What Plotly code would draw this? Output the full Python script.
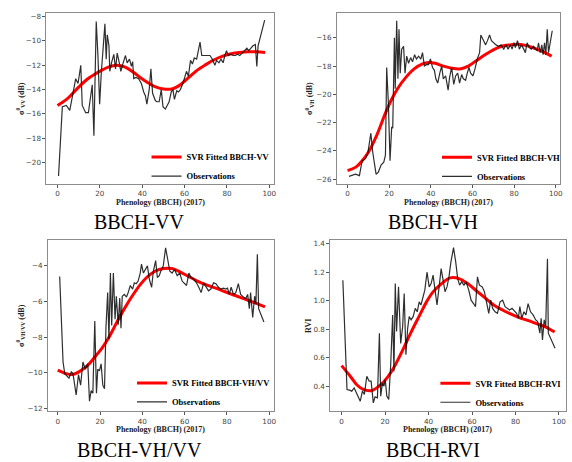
import plotly.graph_objects as go

# ---------------- data ----------------
bbch_fit = [0, 4, 7, 10, 14, 18, 21, 24, 28, 32, 36, 39, 42, 46, 50, 54, 58, 62, 66, 70, 74, 78, 82, 86, 90, 94, 98]

vv_fit = [-15.3, -14.85, -14.35, -13.8, -13.15, -12.7, -12.4, -12.15, -12.0, -12.15, -12.6, -13.0, -13.35, -13.75, -13.95, -13.95, -13.6, -13.0, -12.4, -11.95, -11.55, -11.25, -11.05, -10.95, -10.9, -10.9, -10.95]
vh_fit = [-25.4, -25.15, -24.7, -24.1, -22.9, -21.4, -20.4, -19.6, -18.8, -18.2, -17.85, -17.75, -17.8, -18.0, -18.15, -18.2, -18.0, -17.6, -17.2, -16.85, -16.6, -16.5, -16.45, -16.55, -16.75, -17.0, -17.3]
ratio_fit = [-9.85, -10.05, -10.1, -9.95, -9.6, -9.05, -8.6, -8.05, -7.15, -6.3, -5.55, -5.05, -4.65, -4.3, -4.15, -4.15, -4.35, -4.6, -4.85, -5.05, -5.22, -5.4, -5.58, -5.75, -5.93, -6.1, -6.3]
rvi_fit = [0.544, 0.47, 0.41, 0.377, 0.37, 0.41, 0.46, 0.53, 0.65, 0.78, 0.9, 0.99, 1.06, 1.12, 1.16, 1.155, 1.12, 1.07, 1.02, 0.97, 0.935, 0.905, 0.88, 0.86, 0.837, 0.815, 0.78]

vv_x = [0.5, 2.3, 4.2, 5.8, 7.0, 8.6, 9.7, 11.0, 11.7, 13.3, 14.6, 15.3, 16.4, 17.2, 18.3, 19.1, 19.9, 20.7, 21.4, 22.4, 23.0, 23.5, 24.3, 24.7, 25.5, 26.6, 27.4, 28.2, 29.3, 29.9, 31.0, 32.1, 32.9, 34.0, 34.9, 35.5, 36.0, 37.1, 38.3, 39.6, 40.7, 41.5, 42.2, 43.3, 44.1, 44.9, 46.2, 46.9, 48.0, 49.0, 49.8, 50.9, 51.8, 52.7, 53.7, 54.5, 55.2, 56.3, 57.1, 58.0, 59.2, 59.9, 60.9, 61.8, 62.8, 63.7, 64.6, 65.7, 66.5, 67.3, 68.1, 69.0, 70.4, 72.0, 73.1, 74.3, 75.1, 76.2, 77.2, 78.2, 79.0, 79.8, 80.6, 81.7, 82.9, 84.0, 85.0, 86.0, 87.2, 88.4, 89.4, 90.3, 91.2, 92.3, 93.4, 94.1, 94.7, 95.9, 97.8]
vv_obs = [-21.1, -15.4, -15.3, -15.7, -14.6, -13.1, -13.5, -12.0, -15.3, -15.9, -15.9, -14.9, -13.6, -17.8, -8.4, -11.2, -15.2, -12.6, -11.2, -8.6, -11.5, -9.5, -10.4, -12.5, -11.8, -11.1, -12.3, -11.0, -11.9, -12.5, -11.8, -11.2, -11.8, -11.5, -12.1, -11.7, -13.1, -13.0, -13.1, -13.5, -14.2, -14.5, -15.2, -14.0, -12.3, -14.3, -14.9, -15.0, -15.0, -14.0, -15.4, -15.6, -15.3, -15.0, -14.2, -14.0, -14.8, -14.1, -14.2, -14.0, -13.5, -13.0, -12.5, -12.9, -11.6, -11.9, -11.4, -11.5, -10.7, -10.1, -11.2, -11.2, -11.2, -11.2, -11.5, -12.0, -11.6, -11.8, -11.5, -11.8, -11.2, -10.8, -11.2, -11.1, -11.2, -11.2, -11.1, -11.2, -11.0, -10.8, -10.6, -10.8, -10.6, -10.4, -10.3, -12.1, -10.4, -9.5, -8.3]

vh_x = [0.7, 2.2, 3.8, 5.7, 7.0, 8.6, 9.7, 11.2, 12.1, 13.7, 14.8, 16.1, 17.4, 18.2, 18.8, 19.6, 20.4, 21.2, 21.7, 22.5, 22.9, 23.6, 24.2, 24.7, 25.3, 26.0, 26.9, 27.6, 28.4, 29.3, 30.3, 31.2, 32.2, 33.1, 34.1, 35.2, 36.0, 36.9, 37.9, 38.9, 39.8, 40.8, 41.7, 42.4, 43.3, 44.3, 45.2, 46.0, 47.1, 48.3, 49.0, 50.0, 51.0, 51.9, 52.9, 53.8, 54.8, 55.6, 56.7, 57.5, 58.3, 59.1, 60.2, 61.2, 62.3, 63.4, 64.0, 65.0, 66.3, 67.2, 68.2, 69.1, 70.2, 71.3, 72.6, 73.7, 75.0, 76.1, 77.1, 78.2, 79.0, 79.9, 80.6, 81.6, 82.5, 83.5, 84.6, 85.4, 86.2, 87.3, 88.2, 89.3, 90.1, 91.1, 91.7, 92.5, 93.3, 93.9, 94.6, 95.2, 95.9, 96.5, 98.3]
vh_obs = [-25.8, -25.7, -25.65, -25.75, -24.7, -24.55, -24.2, -22.75, -24.1, -25.65, -25.5, -25.0, -24.8, -24.3, -18.1, -20.6, -24.7, -22.3, -22.4, -16.0, -19.6, -14.8, -18.9, -15.4, -18.5, -16.8, -16.6, -18.5, -17.3, -17.8, -17.4, -17.7, -17.2, -17.5, -17.3, -17.5, -17.05, -18.0, -17.9, -17.9, -17.5, -18.1, -18.3, -18.9, -19.2, -18.5, -18.0, -18.9, -18.7, -19.7, -18.8, -18.1, -19.3, -18.7, -18.5, -19.2, -18.6, -18.9, -19.0, -18.5, -18.1, -18.5, -18.7, -18.2, -17.5, -17.05, -15.8, -16.1, -16.5, -16.2, -15.8, -16.2, -16.35, -16.5, -16.6, -16.5, -16.8, -16.5, -16.8, -16.5, -16.8, -16.35, -16.7, -16.2, -16.8, -16.5, -16.8, -17.05, -16.35, -16.7, -16.8, -16.6, -16.8, -16.9, -16.35, -17.05, -16.5, -17.2, -16.35, -17.2, -15.4, -17.05, -15.5]

ratio_x = [0.9, 2.5, 3.3, 4.4, 5.3, 6.4, 7.2, 8.7, 9.8, 10.8, 11.9, 13.0, 14.2, 15.0, 15.8, 16.6, 17.5, 18.3, 18.9, 19.7, 20.5, 21.3, 22.1, 22.8, 23.6, 24.2, 24.9, 25.5, 26.3, 27.1, 27.7, 28.6, 29.3, 29.9, 30.5, 31.5, 32.5, 33.3, 34.3, 35.4, 36.2, 37.1, 38.0, 39.0, 39.6, 40.5, 41.3, 42.4, 43.3, 44.4, 45.2, 46.3, 47.1, 48.0, 49.0, 49.9, 51.0, 52.1, 53.0, 54.1, 55.2, 56.5, 57.7, 58.8, 59.9, 60.9, 62.0, 63.0, 64.3, 65.6, 66.7, 67.8, 69.0, 70.1, 71.3, 72.4, 73.7, 74.8, 76.0, 77.1, 78.4, 79.5, 80.3, 81.1, 82.0, 83.1, 84.2, 85.4, 86.5, 87.8, 88.9, 89.8, 90.6, 91.2, 92.2, 93.1, 93.7, 94.4, 95.0, 97.5]
ratio_obs = [-4.6, -9.4, -10.05, -10.2, -10.3, -9.95, -10.05, -11.25, -10.1, -10.7, -9.4, -9.8, -9.5, -11.6, -11.0, -11.15, -7.1, -11.15, -9.8, -9.9, -9.5, -10.7, -10.9, -7.45, -5.5, -8.1, -4.4, -7.35, -4.4, -7.0, -5.7, -7.3, -5.8, -7.5, -5.7, -5.6, -5.75, -5.5, -5.1, -5.3, -4.95, -5.0, -4.85, -4.4, -3.9, -4.4, -4.2, -4.0, -4.75, -5.2, -4.3, -3.7, -4.65, -4.55, -4.2, -4.0, -2.98, -3.8, -4.3, -4.4, -4.2, -4.55, -4.4, -4.85, -5.0, -5.1, -4.4, -4.65, -4.75, -4.95, -5.2, -5.5, -4.95, -5.2, -5.4, -5.3, -4.95, -5.0, -5.2, -5.3, -5.25, -5.3, -5.25, -5.6, -5.2, -5.6, -5.5, -5.0, -5.6, -5.75, -5.85, -5.6, -6.4, -5.5, -6.9, -5.7, -6.15, -3.35, -6.4, -7.15]

rvi_x = [0.6, 2.5, 3.7, 4.7, 5.8, 7.0, 8.6, 9.6, 10.5, 11.6, 12.7, 13.6, 14.6, 15.4, 16.5, 17.4, 18.0, 18.8, 19.5, 20.1, 20.8, 21.7, 22.6, 23.5, 24.1, 24.7, 25.3, 26.2, 27.2, 28.1, 28.8, 29.6, 30.4, 31.1, 32.0, 32.9, 33.9, 34.8, 35.7, 36.5, 37.2, 38.3, 39.3, 40.3, 41.2, 42.1, 43.0, 43.9, 44.8, 45.8, 46.7, 47.6, 48.5, 49.4, 50.3, 51.5, 52.5, 53.4, 54.3, 55.2, 56.3, 57.3, 58.5, 59.6, 60.7, 61.6, 62.5, 63.4, 64.7, 65.7, 66.8, 67.7, 68.6, 69.5, 70.6, 71.7, 72.9, 74.1, 75.2, 76.2, 77.3, 78.4, 79.6, 80.5, 81.3, 82.0, 82.9, 83.9, 84.8, 85.8, 86.9, 88.1, 89.3, 90.2, 91.2, 91.8, 92.4, 93.2, 93.9, 94.7, 95.1, 98.2]
rvi_obs = [1.144, 0.377, 0.372, 0.365, 0.388, 0.353, 0.295, 0.365, 0.342, 0.47, 0.435, 0.435, 0.283, 0.325, 0.318, 0.772, 0.33, 0.42, 0.40, 0.446, 0.33, 0.307, 0.55, 0.90, 0.504, 1.12, 0.784, 1.097, 0.70, 0.818, 1.05, 0.62, 0.806, 0.888, 0.865, 0.888, 0.946, 0.922, 0.992, 0.97, 1.004, 1.074, 1.20, 1.097, 1.12, 1.18, 1.074, 0.97, 1.086, 1.225, 1.144, 1.063, 1.097, 1.167, 1.272, 1.372, 1.272, 1.155, 1.109, 1.132, 1.109, 1.132, 1.074, 1.004, 0.98, 0.958, 1.167, 1.109, 1.097, 1.063, 0.98, 0.911, 1.004, 0.946, 0.922, 0.911, 0.992, 1.004, 0.958, 0.946, 0.934, 0.946, 0.922, 0.911, 0.876, 0.958, 0.876, 0.922, 0.90, 0.98, 0.922, 0.90, 0.865, 0.853, 0.772, 0.876, 0.725, 0.865, 0.818, 1.295, 0.772, 0.667]

fit_names = ["SVR Fitted BBCH-VV", "SVR Fitted BBCH-VH", "SVR Fitted BBCH-VH/VV", "SVR Fitted BBCH-RVI"]
obs_name = "Observations"
captions = ["BBCH-VV", "BBCH-VH", "BBCH-VH/VV", "BBCH-RVI"]
y_titles = ["σ<sup>0</sup><sub>VV</sub> (dB)", "σ<sup>0</sup><sub>VH</sub> (dB)",
            "σ<sup>0</sup><sub>VH/VV</sub> (dB)", "RVI"]
x_title = "Phenology (BBCH) (2017)"
x_ticks = [0, 20, 40, 60, 80, 100]
y_ticks = [[-20, -18, -16, -14, -12, -10, -8],
           [-26, -24, -22, -20, -18, -16],
           [-12, -10, -8, -6, -4],
           [0.4, 0.6, 0.8, 1.0, 1.2, 1.4]]

# ---------------- layout geometry (pixels) ----------------
W, H = 572, 462
boxes = [(46.7, 275.0, 12.0, 184.0), (338.7, 562.7, 12.3, 184.0),
         (48.3, 275.3, 240.3, 412.7), (332.0, 568.7, 241.0, 412.7)]
x_ranges = [[-5.2, 102.0], [-5.1, 101.9], [-4.6, 102.2], [-5.2, 103.1]]
y_ranges = [[-21.74, -7.7], [-26.33, -14.26], [-12.15, -2.53], [0.2256, 1.423]]
legend_pos = [(147.3, 166.7), (439.3, 166.9), (132.7, 394.0), (437.7, 394.3)]
ytitle_x = [20.7, 311.0, 20.7, 310.0]
xtitle_y = [202.8, 202.8, 431.2, 431.2]
caption_pos = [(140.5, 222.0), (435.0, 222.0), (140.3, 452.0), (435.0, 452.0)]

fits = [vv_fit, vh_fit, ratio_fit, rvi_fit]
obs_x = [vv_x, vh_x, ratio_x, rvi_x]
obs_y = [vv_obs, vh_obs, ratio_obs, rvi_obs]

fig = go.Figure()
serif = "Liberation Serif, Times New Roman, serif"
sans = "DejaVu Sans, sans-serif"
annotations = []
layout = {}

for i in range(4):
    sfx = "" if i == 0 else str(i + 1)
    xa, ya = "x" + sfx, "y" + sfx
    lg = "legend" + sfx
    fig.add_trace(go.Scatter(x=bbch_fit, y=fits[i], xaxis=xa, yaxis=ya, mode="lines",
                             line=dict(color="#ff0000", width=3, shape="spline", smoothing=1.0),
                             name=fit_names[i], legend=lg))
    fig.add_trace(go.Scatter(x=obs_x[i], y=obs_y[i], xaxis=xa, yaxis=ya, mode="lines",
                             line=dict(color="rgba(0,0,0,0.82)", width=1.2),
                             name=obs_name, legend=lg))
    x0, x1, y0, y1 = boxes[i]
    axis_common = dict(showline=True, mirror=True, linecolor="#8c8c8c", linewidth=1,
                       ticks="outside", ticklen=3, tickwidth=0.8, tickcolor="#555",
                       showgrid=False, zeroline=False,
                       tickfont=dict(family=sans, size=7.2, color="#444"))
    layout["xaxis" + sfx] = dict(domain=[x0 / W, x1 / W], anchor=ya, range=x_ranges[i],
                                 tickvals=x_ticks, **axis_common)
    layout["yaxis" + sfx] = dict(domain=[1 - y1 / H, 1 - y0 / H], anchor=xa, range=y_ranges[i],
                                 tickvals=y_ticks[i],
                                 tickformat=".1f" if i == 3 else "d", **axis_common)
    lx, ly = legend_pos[i]
    layout[lg] = dict(x=lx / W, y=1 - ly / H, xanchor="left", yanchor="middle",
                      bgcolor="rgba(0,0,0,0)", borderwidth=0, tracegroupgap=0,
                      font=dict(family=serif, size=8.5, color="#000", weight="bold"))
    annotations.append(dict(text="<b>" + x_title + "</b>", xref="paper", yref="paper",
                            x=(x0 + x1) / 2 / W, y=1 - xtitle_y[i] / H, showarrow=False,
                            xanchor="center", yanchor="middle",
                            font=dict(family=serif, size=8, color="#222")))
    annotations.append(dict(text="<b>" + y_titles[i] + "</b>", xref="paper", yref="paper",
                            x=ytitle_x[i] / W, y=1 - (y0 + y1) / 2 / H, showarrow=False,
                            textangle=-90, xanchor="center", yanchor="middle",
                            font=dict(family=serif, size=8, color="#222")))
    cx, cy = caption_pos[i]
    annotations.append(dict(text=captions[i], xref="paper", yref="paper",
                            x=cx / W, y=1 - cy / H, showarrow=False,
                            xanchor="center", yanchor="middle",
                            font=dict(family=serif, size=20, color="#000")))

fig.update_layout(width=W, height=H, margin=dict(l=0, r=0, t=0, b=0),
                  paper_bgcolor="white", plot_bgcolor="white",
                  annotations=annotations, **layout)

fig.write_html("out.html")
